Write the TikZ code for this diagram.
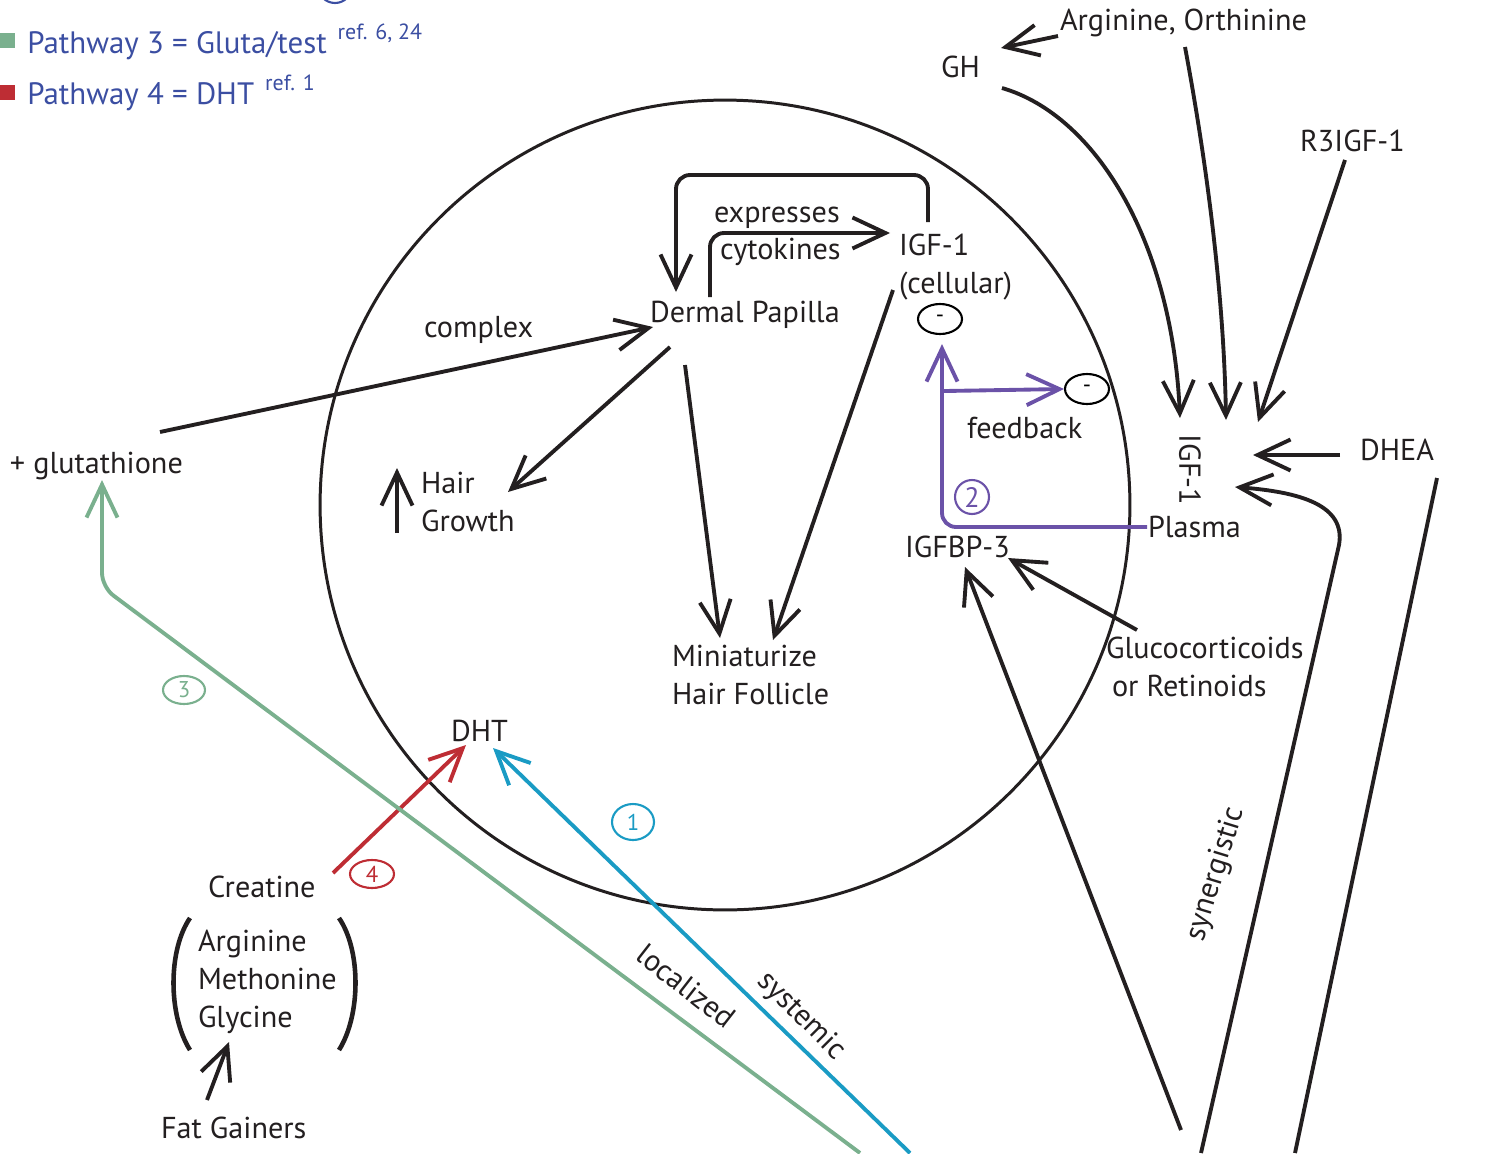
\documentclass[tikz,border=0pt]{standalone}
\usepackage{fontspec}
\setmainfont{PT Sans}
\usetikzlibrary{shapes,arrows.meta}
\usetikzlibrary{positioning}
\usetikzlibrary{calc}

\definecolor{ink}{RGB}{35,31,32}
\definecolor{pgreen}{RGB}{122,176,142}
\definecolor{pred}{RGB}{190,45,52}
\definecolor{pcyan}{RGB}{26,155,196}
\definecolor{ppurple}{RGB}{107,82,168}
\definecolor{pblue}{RGB}{59,78,162}

\begin{document}
\begin{tikzpicture}[x=0.02cm,y=-0.02cm]
 \useasboundingbox (0,0) rectangle (1494,1153);
 \tikzstyle{lbl} = [anchor=base west, inner sep=0pt, outer sep=0pt, text=ink, font=\fontsize{17.2}{21.6}\selectfont];
 \tikzstyle{multi} = [lbl, align=left];
 \tikzstyle{rot} = [inner sep=0pt, text=ink, font=\fontsize{17.2}{21.6}\selectfont];
 \tikzstyle{leg} = [anchor=base west, inner sep=0pt, text=pblue, font=\fontsize{17.6}{20}\selectfont];
 \tikzstyle{num} = [draw, ellipse, inner sep=0pt, line width=1.2pt, font=\fontsize{13}{15}\selectfont];

 % legend
 \draw [pblue, line width=1.2pt] (335,-14) circle (0.34cm);
 \fill [pgreen] (0,33) rectangle (15,48);
 \fill [pred] (0,85) rectangle (15,100);
 \node (leg3) [leg] at (27,53) {Pathway 3 = Gluta/test\hspace{0.22cm}\raisebox{0.28cm}{\fontsize{12.5}{14}\selectfont ref. 6, 24}};
 \node (leg4) [leg] at (27,104) {Pathway 4 = DHT\hspace{0.22cm}\raisebox{0.28cm}{\fontsize{12.5}{14}\selectfont ref. 1}};

 % cell
 \draw [ink, line width=1.7pt] (725,505) circle (8.1cm);

 \node (argorn) [lbl] at (1060,30) {Arginine, Orthinine};
 \node (gh) [lbl] at (941,77) {GH};
 \node (r3) [lbl] at (1300,151) {R3IGF-1};
 \node (dhea) [lbl] at (1360,460) {DHEA};
 \node (igfp) [rot, rotate=-90] at (1190,470) {IGF-1};
 \node (plasma) [lbl] at (1148,537) {Plasma};
 \node (igfbp) [lbl] at (905,557) {IGFBP-3};
 \node (gluco) [multi] at (1106,696) {Glucocorticoids\\\hspace{0.12cm}or Retinoids};
 \node (feed) [lbl] at (967,438) {feedback};
 \node (igfc) [multi] at (899,293) {IGF-1\\(cellular)};
 \node (expr) [lbl] at (714,222) {expresses};
 \node (cyto) [lbl] at (720,259) {cytokines};
 \node (dp) [lbl] at (650,322) {Dermal Papilla};
 \node (cmplx) [lbl] at (424,337) {complex};
 \node (glut) [lbl] at (10,473) {+ glutathione};
 \node (hair) [multi] at (421,531) {Hair\\Growth};
 \node (mini) [multi] at (672,704) {Miniaturize\\Hair Follicle};
 \node (dht) [lbl] at (451,741) {DHT};
 \node (creat) [lbl] at (208,897) {Creatine};
 \node (amg) [multi] at (198,1027) {Arginine\\Methonine\\Glycine};
 \node (fat) [lbl] at (161,1138) {Fat Gainers};

 \node (m1) [num, minimum width=0.88cm, minimum height=0.6cm] at (940,319) {-};
 \node (m2) [num, minimum width=0.88cm, minimum height=0.6cm] at (1087,389) {-};
 \node (n2) [num, circle, ppurple, minimum size=0.68cm, font=\fontsize{16}{18}\selectfont] at (972,497) {2};
 \node (n3) [num, pgreen, minimum width=0.84cm, minimum height=0.56cm] at (184,690) {3};
 \node (n4) [num, pred, minimum width=0.88cm, minimum height=0.56cm] at (372,874) {4};
 \node (n1) [num, pcyan, minimum width=0.84cm, minimum height=0.72cm] at (633,822) {1};

 \node (loc) [rot, rotate=-38] at (686,986) {localized};
 \node (sys) [rot, rotate=-45] at (801,1016) {systemic};
 \node (syn) [rot, rotate=73] at (1216,874) {synergistic};

 \coordinate (b1) at (1201,1153);
 \coordinate (b2) at (1295,1153);
 \coordinate (b3) at (1181,1130);
 \coordinate (b4) at (910,1153);
 \coordinate (b5) at (860,1153);

 \tikzstyle{C} = [color=ink, line width=2.2pt, -{Straight Barb[length=0.66cm,width=0.62cm]}];
 \tikzstyle{L} = [color=ink, line width=2.2pt];

 \draw [C] ($(argorn.base west)+(-2,6)$) -- ($(gh.base west)+(60,-29)$);
 \draw [C] ($(gh.base west)+(61,11)$) .. controls (1095,115) and (1172,240) .. ($(igfp)+(-10,-52)$);
 \draw [C] ($(argorn.base west)+(125,17)$) .. controls (1208,170) and (1224,300) .. ($(igfp)+(36,-50)$);
 \draw [C] ($(r3.base west)+(45,9)$) -- ($(igfp)+(68,-48)$);
 \draw [C] ($(dhea.base west)+(-20,-5)$) -- ($(igfp)+(63,-15)$);
 \draw [C] (b1) -- (1339,545) .. controls (1346,505) and (1300,492) .. ($(igfp)+(45,17)$);
 \draw [L] ($(dhea.base west)+(77,18)$) -- (b2);
 \draw [C] (b3) -- ($(igfbp.base west)+(60,10)$);
 \draw [C] ($(gluco.base west)+(31,-66)$) -- ($(igfbp.base west)+(103,1)$);
 \draw [C] ($(igfc.base west)+(-6,-3)$) -- ($(mini.base west)+(101,-64)$);
 \draw [C] ($(dp.base west)+(35,43)$) -- ($(mini.base west)+(48,-66)$);
 \draw [C] ($(dp.base west)+(20,25)$) -- ($(hair.base west)+(87,-39)$);
 \draw [C] ($(glut.base west)+(150,-41)$) -- ($(dp.base west)+(3,5)$);
 \draw [C, rounded corners=8pt] ($(dp.base west)+(60,-25)$) |- ($(igfc.base west)+(-9,-60)$);
 \draw [C, rounded corners=8pt] ($(igfc.base west)+(29,-71)$) -- ++(0,-47) -| ($(dp.base west)+(26,-30)$);
 \draw [C] ($(hair.base west)+(-24,2)$) -- ($(hair.base west)+(-24,-63)$);

 \tikzstyle{P} = [color=ppurple, line width=2.2pt, -{Straight Barb[length=0.66cm,width=0.62cm]}];
 \draw [P, rounded corners=8pt] ($(plasma.base west)+(-1,-10)$) -| ($(m1.south)+(2,9)$);
 \draw [P] ($(m1.south)+(2,56)$) -- (m2.west);

 \draw [C, pred] ($(creat.base west)+(125,-24)$) -- ($(dht.base west)+(15,4)$);
 \draw [C, pcyan] (b4) -- ($(dht.base west)+(42,7)$);
 \draw [C, pgreen, rounded corners=8pt] (b5) -- ($(glut.base west)+(92,114)$) -- ($(glut.base west)+(92,7)$);
 \draw [C] ($(fat.base west)+(46,-38)$) -- ($(amg.base west)+(31,15)$);

 % brackets
 \draw [L, line width=2.6pt] (190,918) .. controls (168,950) and (168,1015) .. (190,1050);
 \draw [L, line width=2.6pt] (339,918) .. controls (361,950) and (361,1015) .. (339,1050);
\end{tikzpicture}
\end{document}
